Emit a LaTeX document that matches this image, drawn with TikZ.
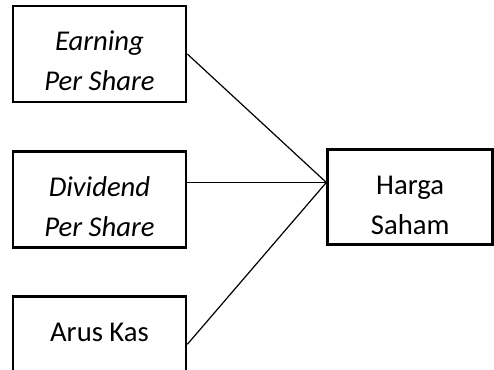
\documentclass[tikz,border=0pt]{standalone}
\usepackage{fontspec}
\setmainfont{Carlito}
\usetikzlibrary{positioning}
\newcommand{\gapline}{\rule{0pt}{25.5pt}}
\tikzset{
  block/.style={
    draw,
    rectangle,
    line width=2pt,
    minimum width=129.75pt,
    minimum height=72pt,
    inner sep=0pt,
    align=center,
    font=\fontsize{21.5}{30}\selectfont
  },
  link/.style={
    line width=0.9pt
  }
}
\begin{document}
\begin{tikzpicture}[x=0.75pt, y=-0.75pt]
    \clip (0,0) rectangle (494,369);
    \node[block] (eps) at (99.5,54) {\gapline\textit{Earning}\\\textit{Per Share}};
    \node[block, below=35.25pt of eps] (dps) {\gapline\textit{Dividend}\\\textit{Per Share}};
    \node[block, below=34.5pt of dps] (ak) {\gapline Arus Kas\\\mbox{}};
    \node[block, minimum width=123.75pt, minimum height=71.25pt,
          right=104.25pt of dps, yshift=1.9pt] (hs) {\gapline Harga\\Saham};

    \coordinate (join) at ([yshift=11pt]hs.west);
    \draw[link] (eps.east) -- (join);
    \draw[link] (dps.east |- join) -- (join);
    \draw[link] (ak.east) -- (join);
\end{tikzpicture}
\end{document}
